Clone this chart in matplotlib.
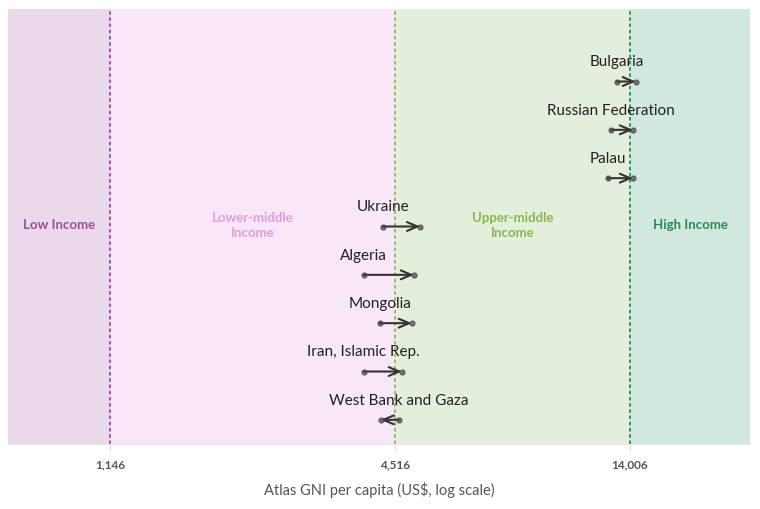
import matplotlib.pyplot as plt
import numpy as np

countries = ['West Bank and Gaza', 'Iran, Islamic Rep.', 'Mongolia', 'Algeria',
             'Ukraine', 'Palau', 'Russian Federation', 'Bulgaria']
gni_start = [4600, 3890, 4200, 3890, 4260, 12600, 12780, 13150]
gni_end = [4220, 4670, 4900, 4950, 5100, 14200, 14200, 14400]

thresholds = [1146, 4516, 14006]
band_names = ['Low Income', 'Lower-middle\nIncome', 'Upper-middle\nIncome', 'High Income']
band_fill = ['#ead9ea', '#f8e7f6', '#e4efdb', '#d1e8de']
band_text = ['#9c4f97', '#e59bdb', '#86b94f', '#2b8a5a']
line_colors = ['#a8559f', '#8fc15e', '#2f9465']

xmin, xmax = 702, 24950

plt.rcParams['font.family'] = ['Lato', 'DejaVu Sans']
fig, ax = plt.subplots(figsize=(7.6, 5.1), dpi=100)
fig.subplots_adjust(left=8/760, right=750/760, top=1-10/510, bottom=1-445/510)

ax.set_xscale('log')
ax.set_xlim(xmin, xmax)
ax.set_ylim(-0.5, 8.5)

edges = [xmin] + thresholds + [xmax]
for i in range(4):
    ax.axvspan(edges[i], edges[i + 1], color=band_fill[i], lw=0, zorder=0)
    xc = np.sqrt(edges[i] * edges[i + 1])
    ax.text(xc, 4.05, band_names[i], ha='center', va='center', fontsize=9.5,
            fontweight='bold', color=band_text[i], linespacing=1.3)

for t, c in zip(thresholds, line_colors):
    ax.axvline(t, color=c, lw=1.4, ls=(0, (1.8, 1.4)), zorder=1)

for i, name in enumerate(countries):
    ax.annotate('', xy=(gni_end[i], i), xytext=(gni_start[i], i),
                arrowprops=dict(arrowstyle='->,head_length=0.75,head_width=0.32',
                                color='#333333', lw=1.5, shrinkA=0, shrinkB=0),
                zorder=3)
    ax.plot([gni_start[i], gni_end[i]], [i, i], 'o', color='#444444',
            ms=3.5, alpha=0.7, zorder=4)
    ax.text(gni_start[i], i + 0.27, name, ha='center', va='bottom',
            fontsize=11, color='#222222', zorder=5)

ax.set_xticks(thresholds)
ax.set_xticklabels([f'{t:,}' for t in thresholds])
ax.xaxis.set_minor_locator(plt.NullLocator())
ax.tick_params(axis='x', length=5, color='#dddddd', labelsize=8.5, labelcolor='#555555', pad=5)
for lbl in ax.get_xticklabels():
    lbl.set_fontweight('bold')
ax.set_yticks([])
for s in ['top', 'left', 'right']:
    ax.spines[s].set_visible(False)
ax.spines['bottom'].set_color('#e6e6e6')

ax.set_xlabel('Atlas GNI per capita (US$, log scale)', fontsize=10.5, color='#555555', labelpad=9)

plt.savefig('out.png', dpi=100)
